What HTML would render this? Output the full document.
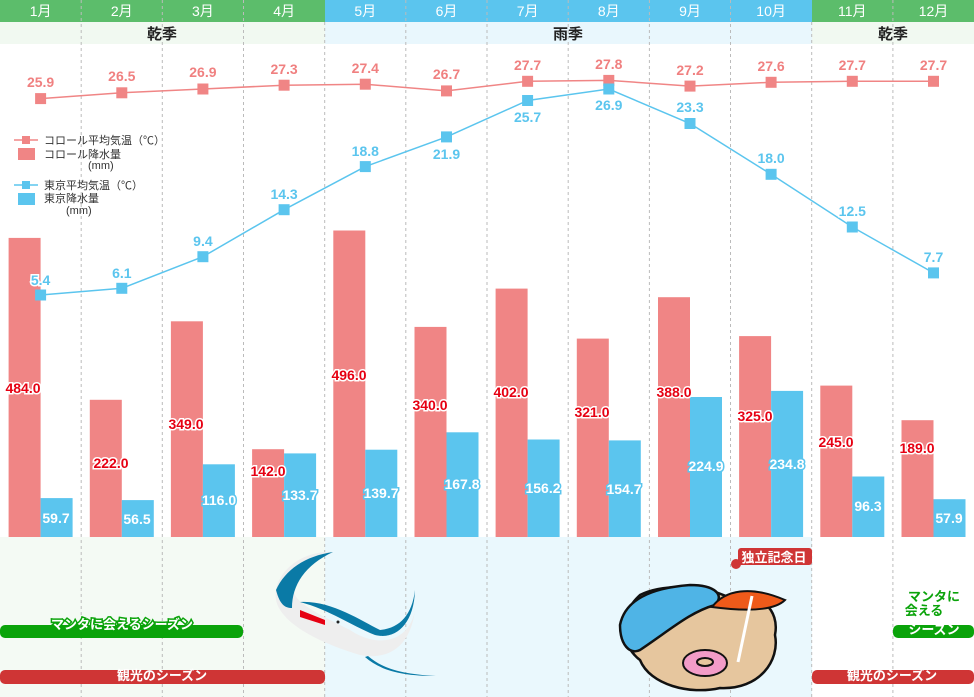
<!DOCTYPE html>
<html><head><meta charset="utf-8"><style>
html,body{margin:0;padding:0;background:#fff}
svg{display:block;font-family:"Liberation Sans","Noto Sans CJK JP",sans-serif}
.cl{fill:#f08080;font-size:14px;font-weight:bold;text-anchor:middle}
.tl{fill:#5bc5ee;font-size:14px;font-weight:bold;text-anchor:middle;stroke:#fff;stroke-width:3px;paint-order:stroke}
.cb{fill:#e60012;font-size:14px;font-weight:bold;text-anchor:middle;stroke:#fff;stroke-width:3px;paint-order:stroke}
.tb{fill:#fff;font-size:14px;font-weight:bold;text-anchor:middle;stroke:#5bc5ee;stroke-width:3px;paint-order:stroke}
.m{fill:#fff;font-size:14px;text-anchor:middle}
.lg{font-size:11px;fill:#333}
</style></head><body>
<svg width="974" height="697" viewBox="0 0 974 697" xmlns="http://www.w3.org/2000/svg">
<rect x="0" y="0" width="325" height="22" fill="#5cbd6b"/>
<rect x="325" y="0" width="487" height="22" fill="#5bc5ee"/>
<rect x="812" y="0" width="162" height="22" fill="#5cbd6b"/>
<rect x="0" y="22" width="325" height="22" fill="#f1f9f1"/>
<rect x="325" y="22" width="487" height="22" fill="#e9f7fd"/>
<rect x="812" y="22" width="162" height="22" fill="#f1f9f1"/>
<rect x="0" y="537" width="325" height="160" fill="#f4faf4"/>
<rect x="325" y="537" width="487" height="160" fill="#eaf8fd"/>
<rect x="812" y="537" width="162" height="160" fill="#ffffff"/>
<g class="m">
<text x="40.6" y="16">1月</text><text x="121.8" y="16">2月</text><text x="202.9" y="16">3月</text><text x="284.1" y="16">4月</text><text x="365.3" y="16">5月</text><text x="446.5" y="16">6月</text><text x="527.6" y="16">7月</text><text x="608.8" y="16">8月</text><text x="690" y="16">9月</text><text x="771.1" y="16">10月</text><text x="852.3" y="16">11月</text><text x="933.5" y="16">12月</text>
</g>
<g font-size="15" font-weight="bold" fill="#222" text-anchor="middle">
<text x="162" y="39">乾季</text><text x="568" y="39">雨季</text><text x="893" y="39">乾季</text>
</g>
<g stroke="#bbb" stroke-dasharray="3,3" stroke-width="1">
<line x1="81.2" y1="0" x2="81.2" y2="697"/><line x1="162.3" y1="0" x2="162.3" y2="697"/><line x1="243.5" y1="0" x2="243.5" y2="697"/><line x1="324.7" y1="22" x2="324.7" y2="697"/><line x1="405.8" y1="0" x2="405.8" y2="697"/><line x1="487" y1="0" x2="487" y2="697"/><line x1="568.2" y1="0" x2="568.2" y2="697"/><line x1="649.4" y1="0" x2="649.4" y2="697"/><line x1="730.5" y1="0" x2="730.5" y2="697"/><line x1="811.7" y1="22" x2="811.7" y2="697"/><line x1="892.9" y1="0" x2="892.9" y2="697"/>
</g>
<g fill="#f08585">
<rect x="8.6" y="237.9" width="32" height="299.1"/><rect x="89.8" y="399.8" width="32" height="137.2"/><rect x="170.9" y="321.3" width="32" height="215.7"/><rect x="252.1" y="449.2" width="32" height="87.8"/><rect x="333.3" y="230.5" width="32" height="306.5"/><rect x="414.5" y="326.9" width="32" height="210.1"/><rect x="495.6" y="288.6" width="32" height="248.4"/><rect x="576.8" y="338.6" width="32" height="198.4"/><rect x="658" y="297.2" width="32" height="239.8"/><rect x="739.1" y="336.1" width="32" height="200.9"/><rect x="820.3" y="385.6" width="32" height="151.4"/><rect x="901.5" y="420.2" width="32" height="116.8"/>
</g>
<g fill="#5bc5ee">
<rect x="40.6" y="498.1" width="32" height="38.9"/><rect x="121.8" y="500.1" width="32" height="36.9"/><rect x="202.9" y="464.3" width="32" height="72.7"/><rect x="284.1" y="453.4" width="32" height="83.6"/><rect x="365.3" y="449.7" width="32" height="87.3"/><rect x="446.5" y="432.3" width="32" height="104.7"/><rect x="527.6" y="439.5" width="32" height="97.5"/><rect x="608.8" y="440.4" width="32" height="96.6"/><rect x="690" y="397" width="32" height="140"/><rect x="771.1" y="390.9" width="32" height="146.1"/><rect x="852.3" y="476.5" width="32" height="60.5"/><rect x="933.5" y="499.2" width="32" height="37.8"/>
</g>
<g class="cb">
<text x="23" y="393">484.0</text><text x="111" y="468">222.0</text><text x="186" y="429">349.0</text><text x="268" y="476">142.0</text><text x="349" y="380">496.0</text><text x="430" y="410">340.0</text><text x="511" y="397">402.0</text><text x="592" y="417">321.0</text><text x="674" y="397">388.0</text><text x="755" y="421">325.0</text><text x="836" y="447">245.0</text><text x="917" y="453">189.0</text>
</g>
<g class="tb">
<text x="56" y="523">59.7</text><text x="137" y="524">56.5</text><text x="219" y="505">116.0</text><text x="300" y="500">133.7</text><text x="381" y="498">139.7</text><text x="462" y="489">167.8</text><text x="543" y="493">156.2</text><text x="624" y="494">154.7</text><text x="706" y="471">224.9</text><text x="787" y="469">234.8</text><text x="868" y="511">96.3</text><text x="949" y="523">57.9</text>
</g>
<polyline fill="none" stroke="#f08585" stroke-width="1.5" points="40.6,98.6 121.8,92.8 202.9,89 284.1,85.2 365.3,84.2 446.5,90.9 527.6,81.3 608.8,80.4 690,86.1 771.1,82.3 852.3,81.3 933.5,81.3"/>
<g fill="#f08585">
<rect x="35.1" y="93.1" width="11" height="11"/><rect x="116.3" y="87.3" width="11" height="11"/><rect x="197.4" y="83.5" width="11" height="11"/><rect x="278.6" y="79.7" width="11" height="11"/><rect x="359.8" y="78.7" width="11" height="11"/><rect x="441" y="85.4" width="11" height="11"/><rect x="522.1" y="75.8" width="11" height="11"/><rect x="603.3" y="74.9" width="11" height="11"/><rect x="684.5" y="80.6" width="11" height="11"/><rect x="765.6" y="76.8" width="11" height="11"/><rect x="846.8" y="75.8" width="11" height="11"/><rect x="928" y="75.8" width="11" height="11"/>
</g>
<g class="cl">
<text x="40.6" y="87">25.9</text><text x="121.8" y="81">26.5</text><text x="202.9" y="77">26.9</text><text x="284.1" y="74">27.3</text><text x="365.3" y="73">27.4</text><text x="446.5" y="79">26.7</text><text x="527.6" y="70">27.7</text><text x="608.8" y="69">27.8</text><text x="690" y="75">27.2</text><text x="771.1" y="71">27.6</text><text x="852.3" y="70">27.7</text><text x="933.5" y="70">27.7</text>
</g>
<polyline fill="none" stroke="#5bc5ee" stroke-width="1.5" points="40.6,295 121.8,288.3 202.9,256.7 284.1,209.7 365.3,166.6 446.5,136.9 527.6,100.5 608.8,89 690,123.5 771.1,174.3 852.3,227 933.5,272.9"/>
<g fill="#5bc5ee">
<rect x="35.1" y="289.5" width="11" height="11"/><rect x="116.3" y="282.8" width="11" height="11"/><rect x="197.4" y="251.2" width="11" height="11"/><rect x="278.6" y="204.2" width="11" height="11"/><rect x="359.8" y="161.1" width="11" height="11"/><rect x="441" y="131.4" width="11" height="11"/><rect x="522.1" y="95" width="11" height="11"/><rect x="603.3" y="83.5" width="11" height="11"/><rect x="684.5" y="118" width="11" height="11"/><rect x="765.6" y="168.8" width="11" height="11"/><rect x="846.8" y="221.5" width="11" height="11"/><rect x="928" y="267.4" width="11" height="11"/>
</g>
<g class="tl">
<text x="40.6" y="285">5.4</text><text x="121.8" y="278">6.1</text><text x="202.9" y="246">9.4</text><text x="284.1" y="199">14.3</text><text x="365.3" y="156">18.8</text><text x="446.5" y="159">21.9</text><text x="527.6" y="122">25.7</text><text x="608.8" y="110">26.9</text><text x="690" y="112">23.3</text><text x="771.1" y="163">18.0</text><text x="852.3" y="216">12.5</text><text x="933.5" y="262">7.7</text>
</g>
<line x1="14" y1="140" x2="38" y2="140" stroke="#f08585" stroke-width="1.5"/><rect x="22" y="136" width="8" height="8" fill="#f08585"/>
<text class="lg" x="44" y="144">コロール平均気温（℃）</text>
<rect x="18" y="148" width="17" height="12" fill="#f08585"/>
<text class="lg" x="44" y="158">コロール降水量</text>
<text class="lg" x="88" y="169">(mm)</text>
<line x1="14" y1="185" x2="38" y2="185" stroke="#5bc5ee" stroke-width="1.5"/><rect x="22" y="181" width="8" height="8" fill="#5bc5ee"/>
<text class="lg" x="44" y="189">東京平均気温（℃）</text>
<rect x="18" y="193" width="17" height="12" fill="#5bc5ee"/>
<text class="lg" x="44" y="202">東京降水量</text>
<text class="lg" x="66" y="214">(mm)</text>
<g font-size="13" font-weight="bold" fill="#fff" text-anchor="middle">
<rect x="0" y="625" width="243" height="13" rx="5" fill="#0aa30a"/>
<text x="122" y="629" stroke="#0aa30a" stroke-width="3" paint-order="stroke">マンタに会えるシーズン</text>
<rect x="0" y="670" width="325" height="14" rx="5" fill="#cf3535"/>
<text x="162" y="680">観光のシーズン</text>
<rect x="812" y="670" width="162" height="14" rx="5" fill="#cf3535"/>
<text x="892" y="680">観光のシーズン</text>
<rect x="893" y="625" width="81" height="13" rx="5" fill="#0aa30a"/>
<text x="934" y="601" stroke="#fff" stroke-width="3" paint-order="stroke" fill="#0aa30a">マンタに</text>
<text x="924" y="615" stroke="#fff" stroke-width="3" paint-order="stroke" fill="#0aa30a">会える</text>
<text x="934" y="634">シーズン</text>
<circle cx="736" cy="564" r="5" fill="#cf3535"/>
<rect x="738" y="548" width="74" height="17" rx="3" fill="#cf3535"/>
<text x="774" y="562">独立記念日</text>
</g>
<path d="M333,552 C300,550 272,575 276,600 C280,620 310,640 360,655 C385,660 410,650 415,610 C410,640 380,650 350,630 C320,615 300,605 295,595 C290,580 305,560 333,552 Z" fill="#eeeeee"/>
<path d="M333,552 C305,556 285,570 276,590 C280,605 285,608 292,608 C292,585 305,565 333,552 Z" fill="#0a7aa6"/>
<path d="M300,602 C330,600 360,620 380,630 C400,628 412,615 415,590 C414,625 395,640 375,635 C350,625 330,610 300,602 Z" fill="#0a7aa6"/>
<path d="M300,610 L325,620 L325,625 L300,617 Z" fill="#e60012"/>
<circle cx="338" cy="622" r="1.5" fill="#222"/>
<path d="M365,657 C380,670 400,676 436,676 C400,674 382,668 368,656 Z" fill="#0a7aa6"/>
<path d="M640,595 C660,585 700,583 730,598 C760,590 780,610 775,635 C780,660 760,690 720,688 C690,695 650,685 640,660 C620,645 618,615 640,595 Z" fill="#e6c69e" stroke="#111" stroke-width="2.5"/>
<path d="M620,625 C625,600 650,588 690,585 C715,585 725,595 715,605 C690,612 670,630 640,650 C630,655 620,645 620,625 Z" fill="#4fb4e6" stroke="#111" stroke-width="2.5"/>
<path d="M712,607 C725,590 750,585 785,600 C775,610 750,612 712,607 Z" fill="#ee5a1a" stroke="#111" stroke-width="2"/>
<line x1="752" y1="596" x2="738" y2="662" stroke="#fff" stroke-width="3"/>
<ellipse cx="705" cy="663" rx="22" ry="13" fill="#f29cc8" stroke="#111" stroke-width="2"/>
<ellipse cx="705" cy="662" rx="8" ry="4" fill="#e6c69e" stroke="#111" stroke-width="2"/>
</svg>
</body></html>
